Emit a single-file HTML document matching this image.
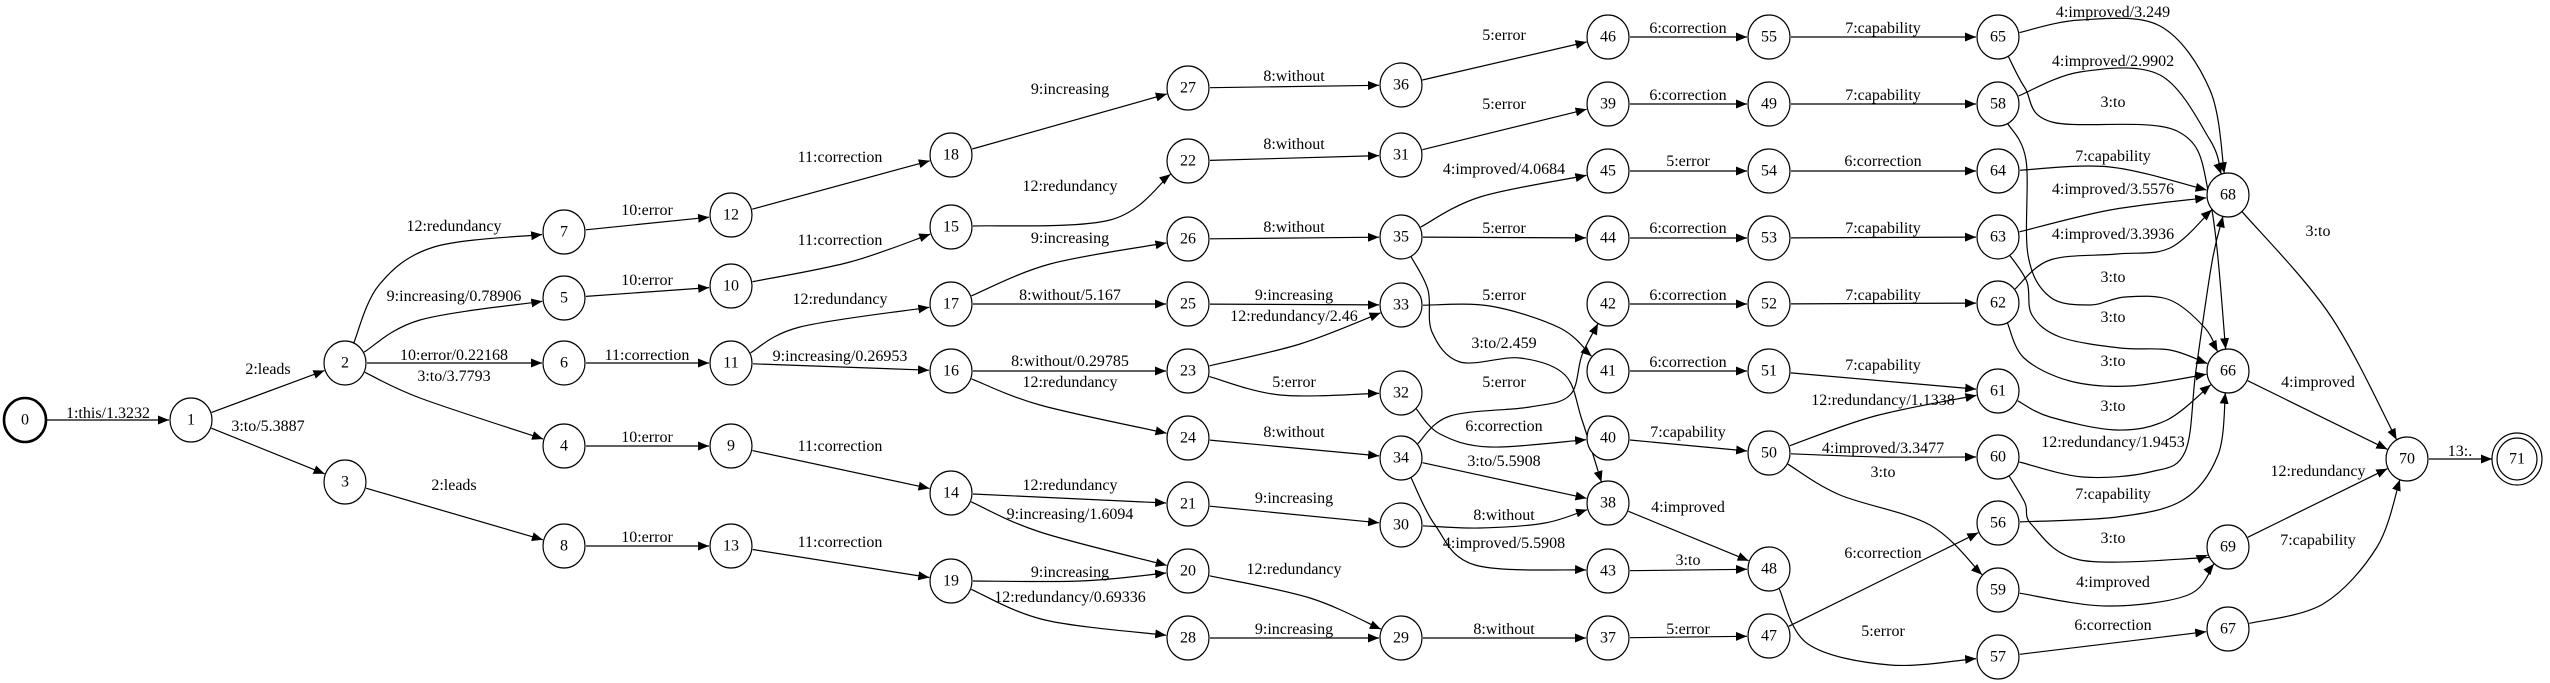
<!DOCTYPE html>
<html><head><meta charset="utf-8"><style>
html,body{margin:0;padding:0;background:#fff;}
svg{display:block;}
text{font-family:"Liberation Serif","DejaVu Serif",serif;font-size:16px;fill:#000;}
.n text{text-anchor:middle;dominant-baseline:central;}
.l{text-anchor:middle;}
</style></head><body>
<svg id="s" xmlns="http://www.w3.org/2000/svg" width="2550" height="683" viewBox="0 0 2550 683">
<defs><marker id="a" markerUnits="userSpaceOnUse" markerWidth="12" markerHeight="10" refX="11" refY="4.5" orient="auto"><path d="M0,0 L11,4.5 L0,9 z" fill="#000"/></marker></defs>
<g id="edges" fill="none" stroke="#000" stroke-width="1.2"></g>
<g class="n" fill="#fff" stroke="#000" stroke-width="1.2">
<ellipse cx="25" cy="420" rx="21" ry="22" stroke-width="2.6"/>
<ellipse cx="191" cy="420" rx="21" ry="22"/><ellipse cx="345" cy="363" rx="21" ry="22"/><ellipse cx="345" cy="482" rx="21" ry="22"/>
<ellipse cx="564" cy="232" rx="21" ry="22"/><ellipse cx="564" cy="298" rx="21" ry="22"/><ellipse cx="564" cy="363" rx="21" ry="22"/><ellipse cx="564" cy="446" rx="21" ry="22"/><ellipse cx="564" cy="546" rx="21" ry="22"/>
<ellipse cx="731" cy="215" rx="21" ry="22"/><ellipse cx="731" cy="286" rx="21" ry="22"/><ellipse cx="731" cy="363" rx="21" ry="22"/><ellipse cx="731" cy="446" rx="21" ry="22"/><ellipse cx="731" cy="546" rx="21" ry="22"/>
<ellipse cx="951" cy="155" rx="21" ry="22"/><ellipse cx="951" cy="227" rx="21" ry="22"/><ellipse cx="951" cy="304" rx="21" ry="22"/><ellipse cx="951" cy="371" rx="21" ry="22"/><ellipse cx="951" cy="493" rx="21" ry="22"/><ellipse cx="951" cy="581" rx="21" ry="22"/>
<ellipse cx="1188" cy="88" rx="21" ry="22"/><ellipse cx="1188" cy="161" rx="21" ry="22"/><ellipse cx="1188" cy="239" rx="21" ry="22"/><ellipse cx="1188" cy="304" rx="21" ry="22"/><ellipse cx="1188" cy="371" rx="21" ry="22"/><ellipse cx="1188" cy="438" rx="21" ry="22"/><ellipse cx="1188" cy="504" rx="21" ry="22"/><ellipse cx="1188" cy="571" rx="21" ry="22"/><ellipse cx="1188" cy="638" rx="21" ry="22"/>
<ellipse cx="1401" cy="85" rx="21" ry="22"/><ellipse cx="1401" cy="155" rx="21" ry="22"/><ellipse cx="1401" cy="237" rx="21" ry="22"/><ellipse cx="1401" cy="305" rx="21" ry="22"/><ellipse cx="1401" cy="393" rx="21" ry="22"/><ellipse cx="1401" cy="458" rx="21" ry="22"/><ellipse cx="1401" cy="525" rx="21" ry="22"/><ellipse cx="1401" cy="638" rx="21" ry="22"/>
<ellipse cx="1608" cy="37" rx="21" ry="22"/><ellipse cx="1608" cy="104" rx="21" ry="22"/><ellipse cx="1608" cy="171" rx="21" ry="22"/><ellipse cx="1608" cy="238" rx="21" ry="22"/><ellipse cx="1608" cy="304" rx="21" ry="22"/><ellipse cx="1608" cy="371" rx="21" ry="22"/><ellipse cx="1608" cy="438" rx="21" ry="22"/><ellipse cx="1608" cy="503" rx="21" ry="22"/><ellipse cx="1608" cy="571" rx="21" ry="22"/><ellipse cx="1608" cy="638" rx="21" ry="22"/>
<ellipse cx="1769" cy="37" rx="21" ry="22"/><ellipse cx="1769" cy="104" rx="21" ry="22"/><ellipse cx="1769" cy="171" rx="21" ry="22"/><ellipse cx="1769" cy="238" rx="21" ry="22"/><ellipse cx="1769" cy="304" rx="21" ry="22"/><ellipse cx="1769" cy="371" rx="21" ry="22"/><ellipse cx="1769" cy="453" rx="21" ry="22"/><ellipse cx="1769" cy="569" rx="21" ry="22"/><ellipse cx="1769" cy="636" rx="21" ry="22"/>
<ellipse cx="1998" cy="37" rx="21" ry="22"/><ellipse cx="1998" cy="104" rx="21" ry="22"/><ellipse cx="1998" cy="171" rx="21" ry="22"/><ellipse cx="1998" cy="237" rx="21" ry="22"/><ellipse cx="1998" cy="303" rx="21" ry="22"/><ellipse cx="1998" cy="391" rx="21" ry="22"/><ellipse cx="1998" cy="457" rx="21" ry="22"/><ellipse cx="1998" cy="523" rx="21" ry="22"/><ellipse cx="1998" cy="590" rx="21" ry="22"/><ellipse cx="1998" cy="657" rx="21" ry="22"/>
<ellipse cx="2228" cy="195" rx="21" ry="22"/><ellipse cx="2228" cy="371" rx="21" ry="22"/><ellipse cx="2228" cy="547" rx="21" ry="22"/><ellipse cx="2228" cy="629" rx="21" ry="22"/>
<ellipse cx="2407" cy="459" rx="21" ry="22"/>
<ellipse cx="2517" cy="459" rx="25" ry="26"/><ellipse cx="2517" cy="459" rx="20" ry="21"/>
</g>
<g class="n" stroke="none">
<text x="25" y="420">0</text><text x="191" y="420">1</text><text x="345" y="363">2</text><text x="345" y="482">3</text>
<text x="564" y="232">7</text><text x="564" y="298">5</text><text x="564" y="363">6</text><text x="564" y="446">4</text><text x="564" y="546">8</text>
<text x="731" y="215">12</text><text x="731" y="286">10</text><text x="731" y="363">11</text><text x="731" y="446">9</text><text x="731" y="546">13</text>
<text x="951" y="155">18</text><text x="951" y="227">15</text><text x="951" y="304">17</text><text x="951" y="371">16</text><text x="951" y="493">14</text><text x="951" y="581">19</text>
<text x="1188" y="88">27</text><text x="1188" y="161">22</text><text x="1188" y="239">26</text><text x="1188" y="304">25</text><text x="1188" y="371">23</text><text x="1188" y="438">24</text><text x="1188" y="504">21</text><text x="1188" y="571">20</text><text x="1188" y="638">28</text>
<text x="1401" y="85">36</text><text x="1401" y="155">31</text><text x="1401" y="237">35</text><text x="1401" y="305">33</text><text x="1401" y="393">32</text><text x="1401" y="458">34</text><text x="1401" y="525">30</text><text x="1401" y="638">29</text>
<text x="1608" y="37">46</text><text x="1608" y="104">39</text><text x="1608" y="171">45</text><text x="1608" y="238">44</text><text x="1608" y="304">42</text><text x="1608" y="371">41</text><text x="1608" y="438">40</text><text x="1608" y="503">38</text><text x="1608" y="571">43</text><text x="1608" y="638">37</text>
<text x="1769" y="37">55</text><text x="1769" y="104">49</text><text x="1769" y="171">54</text><text x="1769" y="238">53</text><text x="1769" y="304">52</text><text x="1769" y="371">51</text><text x="1769" y="453">50</text><text x="1769" y="569">48</text><text x="1769" y="636">47</text>
<text x="1998" y="37">65</text><text x="1998" y="104">58</text><text x="1998" y="171">64</text><text x="1998" y="237">63</text><text x="1998" y="303">62</text><text x="1998" y="391">61</text><text x="1998" y="457">60</text><text x="1998" y="523">56</text><text x="1998" y="590">59</text><text x="1998" y="657">57</text>
<text x="2228" y="195">68</text><text x="2228" y="371">66</text><text x="2228" y="547">69</text><text x="2228" y="629">67</text>
<text x="2407" y="459">70</text><text x="2517" y="459">71</text>
</g>
<g class="l">
<text x="108" y="418">1:this/1.3232</text>
<text x="268" y="374">2:leads</text><text x="268" y="431">3:to/5.3887</text>
<text x="454" y="231">12:redundancy</text><text x="454" y="301">9:increasing/0.78906</text><text x="454" y="360">10:error/0.22168</text><text x="454" y="381">3:to/3.7793</text><text x="454" y="490">2:leads</text>
<text x="647" y="215">10:error</text><text x="647" y="285">10:error</text><text x="647" y="360">11:correction</text><text x="647" y="442">10:error</text><text x="647" y="542">10:error</text>
<text x="840" y="162">11:correction</text><text x="840" y="245">11:correction</text><text x="840" y="304">12:redundancy</text><text x="840" y="361">9:increasing/0.26953</text><text x="840" y="451">11:correction</text><text x="840" y="547">11:correction</text>
<text x="1070" y="94">9:increasing</text><text x="1070" y="191">12:redundancy</text><text x="1070" y="243">9:increasing</text><text x="1070" y="300">8:without/5.167</text><text x="1070" y="366">8:without/0.29785</text><text x="1070" y="387">12:redundancy</text><text x="1070" y="490">12:redundancy</text><text x="1070" y="519">9:increasing/1.6094</text><text x="1070" y="577">9:increasing</text><text x="1070" y="602">12:redundancy/0.69336</text>
<text x="1294" y="81">8:without</text><text x="1294" y="149">8:without</text><text x="1294" y="232">8:without</text><text x="1294" y="300">9:increasing</text><text x="1294" y="321">12:redundancy/2.46</text><text x="1294" y="387">5:error</text><text x="1294" y="437">8:without</text><text x="1294" y="503">9:increasing</text><text x="1294" y="574">12:redundancy</text><text x="1294" y="634">9:increasing</text>
<text x="1504" y="40">5:error</text><text x="1504" y="109">5:error</text><text x="1504" y="174">4:improved/4.0684</text><text x="1504" y="233">5:error</text><text x="1504" y="300">5:error</text><text x="1504" y="348">3:to/2.459</text><text x="1504" y="387">5:error</text><text x="1504" y="431">6:correction</text><text x="1504" y="466">3:to/5.5908</text><text x="1504" y="520">8:without</text><text x="1504" y="548">4:improved/5.5908</text><text x="1504" y="634">8:without</text>
<text x="1688" y="33">6:correction</text><text x="1688" y="100">6:correction</text><text x="1688" y="166">5:error</text><text x="1688" y="233">6:correction</text><text x="1688" y="300">6:correction</text><text x="1688" y="367">6:correction</text><text x="1688" y="437">7:capability</text><text x="1688" y="512">4:improved</text><text x="1688" y="565">3:to</text><text x="1688" y="634">5:error</text>
<text x="1883" y="33">7:capability</text><text x="1883" y="100">7:capability</text><text x="1883" y="166">6:correction</text><text x="1883" y="233">7:capability</text><text x="1883" y="300">7:capability</text><text x="1883" y="370">7:capability</text><text x="1883" y="405">12:redundancy/1.1338</text><text x="1883" y="453">4:improved/3.3477</text><text x="1883" y="477">3:to</text><text x="1883" y="558">6:correction</text><text x="1883" y="636">5:error</text>
<text x="2113" y="17">4:improved/3.249</text><text x="2113" y="66">4:improved/2.9902</text><text x="2113" y="107">3:to</text><text x="2113" y="161">7:capability</text><text x="2113" y="194">4:improved/3.5576</text><text x="2113" y="239">4:improved/3.3936</text><text x="2113" y="282">3:to</text><text x="2113" y="322">3:to</text><text x="2113" y="366">3:to</text><text x="2113" y="411">3:to</text><text x="2113" y="447">12:redundancy/1.9453</text><text x="2113" y="499">7:capability</text><text x="2113" y="543">3:to</text><text x="2113" y="587">4:improved</text><text x="2113" y="630">6:correction</text>
<text x="2318" y="236">3:to</text><text x="2318" y="387">4:improved</text><text x="2318" y="476">12:redundancy</text><text x="2318" y="545">7:capability</text>
<text x="2460" y="456">13:.</text>
</g>
</svg>
<script>
var N={0:[25,420],1:[191,420],2:[345,363],3:[345,482],7:[564,232],5:[564,298],6:[564,363],4:[564,446],8:[564,546],
12:[731,215],10:[731,286],11:[731,363],9:[731,446],13:[731,546],
18:[951,155],15:[951,227],17:[951,304],16:[951,371],14:[951,493],19:[951,581],
27:[1188,88],22:[1188,161],26:[1188,239],25:[1188,304],23:[1188,371],24:[1188,438],21:[1188,504],20:[1188,571],28:[1188,638],
36:[1401,85],31:[1401,155],35:[1401,237],33:[1401,305],32:[1401,393],34:[1401,458],30:[1401,525],29:[1401,638],
46:[1608,37],39:[1608,104],45:[1608,171],44:[1608,238],42:[1608,304],41:[1608,371],40:[1608,438],38:[1608,503],43:[1608,571],37:[1608,638],
55:[1769,37],49:[1769,104],54:[1769,171],53:[1769,238],52:[1769,304],51:[1769,371],50:[1769,453],48:[1769,569],47:[1769,636],
65:[1998,37],58:[1998,104],64:[1998,171],63:[1998,237],62:[1998,303],61:[1998,391],60:[1998,457],56:[1998,523],59:[1998,590],57:[1998,657],
68:[2228,195],66:[2228,371],69:[2228,547],67:[2228,629],70:[2407,459],71:[2517,459]};
var E=[[0,1],[1,2],[1,3],[2,7,[[379,285],[434,247]]],[2,5,[[420,320]]],[2,6],[2,4,[[420,398]]],[3,8],
[7,12],[5,10],[6,11],[4,9],[8,13],[12,18],[10,15,[[850,262]]],[11,17,[[800,327]]],[11,16],[9,14],[13,19],
[18,27],[15,22,[[1110,220]]],[17,26,[[1050,264]]],[17,25],[16,23],[16,24,[[1040,405]]],[14,21],[14,20,[[1040,532]]],[19,20,[[1080,581]]],[19,28,[[1045,620]]],
[27,36],[22,31],[26,35],[25,33],[23,33,[[1300,344]]],[23,32,[[1280,395]]],[24,34],[21,30],[20,29,[[1310,598]]],[28,29],
[36,46],[31,39],[35,45,[[1480,197]]],[35,44],[35,38,[[1428,290],[1432,332],[1460,362],[1520,358],[1565,375],[1582,420]]],
[33,41,[[1490,306],[1560,328]]],[34,42,[[1450,416],[1530,407],[1570,395],[1582,355]]],[32,40,[[1440,434],[1490,447]]],
[34,38],[30,38,[[1480,528],[1545,523]]],[34,43,[[1435,525],[1475,565]]],[29,37],
[46,55],[39,49],[45,54],[44,53],[42,52],[41,51],[40,50],[38,48],[43,48],[37,47],
[55,65],[49,58],[54,64],[53,63],[52,62],[51,61],[50,61,[[1875,416]]],[50,60,[[1880,457]]],[50,59,[[1840,495],[1930,525]]],
[48,57,[[1808,644],[1890,665]]],[47,56],
[65,68,[[2080,20],[2160,26],[2210,90]]],[65,66,[[2025,88],[2052,122],[2177,131],[2210,200]]],
[58,68,[[2080,72],[2160,75],[2210,140]]],[58,66,[[2026,160],[2028,255],[2050,297],[2090,305],[2125,297],[2170,300],[2205,328]]],
[64,68,[[2110,167]]],[63,68,[[2110,210]]],[63,66,[[2027,282],[2032,315],[2060,337],[2120,348],[2170,350]]],
[62,68,[[2050,260],[2117,254],[2170,248]]],[62,66,[[2024,358],[2070,381],[2130,386]]],[61,66,[[2050,417],[2117,430],[2167,420]]],
[60,68,[[2083,477],[2150,472],[2185,452],[2196,370],[2212,262]]],[60,69,[[2025,503],[2032,525],[2080,560],[2200,558]]],
[56,66,[[2117,517],[2183,500],[2218,455]]],[59,69,[[2106,606],[2188,595]]],[57,67],
[68,70,[[2330,315]]],[66,70],[69,70],[67,70,[[2323,604],[2377,547]]],[70,71]];
var g=document.getElementById('edges'),ns='http://www.w3.org/2000/svg';
function tr(a,b,r){var dx=b[0]-a[0],dy=b[1]-a[1],l=Math.sqrt(dx*dx+dy*dy)||1;return [a[0]+dx/l*r,a[1]+dy/l*r];}
E.forEach(function(e){var A=N[e[0]],B=N[e[1]],m=e[2]||[];
var first=m.length?m[0]:B,last=m.length?m[m.length-1]:A;
var rb=(e[1]==71)?25:22;
var P=[tr(A,first,22)].concat(m,[tr(B,last,rb)]);
var d='M'+P[0][0].toFixed(1)+','+P[0][1].toFixed(1);
if(P.length==2){d+=' L'+P[1][0].toFixed(1)+','+P[1][1].toFixed(1);}
else{for(var i=0;i<P.length-1;i++){var p0=P[Math.max(i-1,0)],p1=P[i],p2=P[i+1],p3=P[Math.min(i+2,P.length-1)];
var c1=[p1[0]+(p2[0]-p0[0])/6,p1[1]+(p2[1]-p0[1])/6],c2=[p2[0]-(p3[0]-p1[0])/6,p2[1]-(p3[1]-p1[1])/6];
d+=' C'+c1[0].toFixed(1)+','+c1[1].toFixed(1)+' '+c2[0].toFixed(1)+','+c2[1].toFixed(1)+' '+p2[0].toFixed(1)+','+p2[1].toFixed(1);}}
var p=document.createElementNS(ns,'path');p.setAttribute('d',d);p.setAttribute('marker-end','url(#a)');g.appendChild(p);});
</script>
</body></html>
